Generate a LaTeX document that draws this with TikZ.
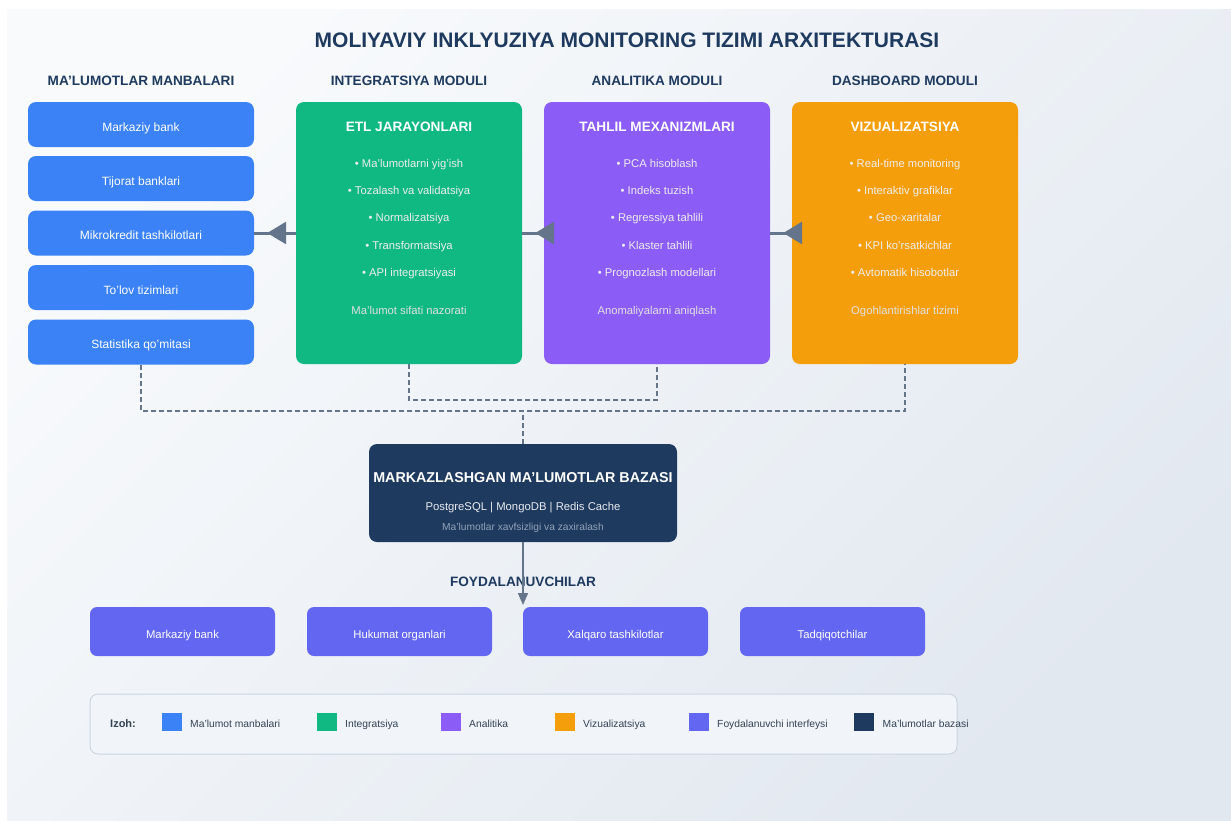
\documentclass[tikz,border=0pt]{standalone}
\usepackage{fontspec}
\setmainfont{Liberation Sans}
\usetikzlibrary{arrows.meta}
\definecolor{bgA}{HTML}{F8FAFC}
\definecolor{bgB}{HTML}{EEF2F7}
\definecolor{bgC}{HTML}{E2E8F0}
\definecolor{navy}{HTML}{1E3A5F}
\definecolor{cblue}{HTML}{3B82F6}
\definecolor{cgreen}{HTML}{10B981}
\definecolor{cpurple}{HTML}{8B5CF6}
\definecolor{corange}{HTML}{F59E0B}
\definecolor{cindigo}{HTML}{6366F1}
\definecolor{cline}{HTML}{64748B}
\definecolor{clegbg}{HTML}{F1F5F9}
\definecolor{clegbd}{HTML}{CBD5E1}
\definecolor{clegtx}{HTML}{334155}
\definecolor{cdbsub}{HTML}{94A3B8}
\tikzset{
  srcbox/.style={fill=cblue, rounded corners=8pt, minimum width=226pt, minimum height=45pt, inner sep=0pt, text=white, text height=13pt, text depth=0pt, font=\fontsize{12}{14}\selectfont},
  modbox/.style={rounded corners=8pt, minimum width=226pt, minimum height=262pt, inner sep=0pt},
  usrbox/.style={fill=cindigo, rounded corners=7pt, minimum width=185pt, minimum height=49pt, inner sep=0pt, text=white, text height=13.5pt, text depth=0pt, font=\fontsize{11.3}{13}\selectfont},
  heading/.style={anchor=base, inner sep=0pt, text=navy, font=\bfseries\fontsize{13.6}{16}\selectfont},
  modtitle/.style={anchor=base, inner sep=0pt, text=white, font=\bfseries\fontsize{13.6}{16}\selectfont},
  bullet/.style={anchor=base, inner sep=0pt, text=white!93!black, font=\fontsize{11.25}{13}\selectfont},
  footer/.style={anchor=base, inner sep=0pt, text=white!88!black, font=\fontsize{11.25}{13}\selectfont},
  flowline/.style={draw=cline, line width=3pt, postaction={draw=cline, line width=3pt, -{Triangle[length=19pt,width=22pt]}, shorten >=13pt}},
  dashline/.style={draw=cline, line width=2pt, dash pattern=on 5pt off 3pt},
  swatch/.style={minimum width=20pt, minimum height=18pt, inner sep=0pt},
  legtext/.style={text=clegtx, font=\fontsize{10.3}{12}\selectfont, anchor=base west, inner sep=0pt},
}
\begin{document}
\begin{tikzpicture}[x=1pt,y=-1pt]
\useasboundingbox (0,0) rectangle (1231,820);
\fill[white] (0,0) rectangle (1231,820);
\shade[left color=bgA, right color=bgC, shading angle=45] (7,9) rectangle (1231,820);

% title
\node[anchor=base, inner sep=0pt, text=navy, font=\bfseries\fontsize{21}{24}\selectfont] (title) at (627,47.5) {MOLIYAVIY INKLYUZIYA MONITORING TIZIMI ARXITEKTURASI};

% column headings
\node[heading] (h1) at (141,85.5) {MA'LUMOTLAR MANBALARI};
\node[heading] (h2) at (409,85.5) {INTEGRATSIYA MODULI};
\node[heading] (h3) at (657,85.5) {ANALITIKA MODULI};
\node[heading] (h4) at (905,85.5) {DASHBOARD MODULI};

% sources
\node[srcbox] (s1) at (141,124.5) {Markaziy bank};
\node[srcbox] (s2) at (141,178.5) {Tijorat banklari};
\node[srcbox] (s3) at (141,233) {Mikrokredit tashkilotlari};
\node[srcbox] (s4) at (141,287.5) {To'lov tizimlari};
\node[srcbox] (s5) at (141,342) {Statistika qo'mitasi};

% modules
\node[modbox, fill=cgreen] (etl) at (409,233) {};
\node[modbox, fill=cpurple] (tah) at (657,233) {};
\node[modbox, fill=corange] (viz) at (905,233) {};

\node[modtitle] (etlT) at (409,131.5) {ETL JARAYONLARI};
\node[bullet] (etl1) at (409,167.3) {• Ma'lumotlarni yig'ish};
\node[bullet] (etl2) at (409,194.5) {• Tozalash va validatsiya};
\node[bullet] (etl3) at (409,221.7) {• Normalizatsiya};
\node[bullet] (etl4) at (409,249) {• Transformatsiya};
\node[bullet] (etl5) at (409,276.3) {• API integratsiyasi};
\node[footer] (etlF) at (409,314.3) {Ma'lumot sifati nazorati};

\node[modtitle] (tahT) at (657,131.5) {TAHLIL MEXANIZMLARI};
\node[bullet] (tah1) at (657,167.3) {• PCA hisoblash};
\node[bullet] (tah2) at (657,194.5) {• Indeks tuzish};
\node[bullet] (tah3) at (657,221.7) {• Regressiya tahlili};
\node[bullet] (tah4) at (657,249) {• Klaster tahlili};
\node[bullet] (tah5) at (657,276.3) {• Prognozlash modellari};
\node[footer] (tahF) at (657,314.3) {Anomaliyalarni aniqlash};

\node[modtitle] (vizT) at (905,131.5) {VIZUALIZATSIYA};
\node[bullet] (viz1) at (905,167.3) {• Real-time monitoring};
\node[bullet] (viz2) at (905,194.5) {• Interaktiv grafiklar};
\node[bullet] (viz3) at (905,221.7) {• Geo-xaritalar};
\node[bullet] (viz4) at (905,249) {• KPI ko'rsatkichlar};
\node[bullet] (viz5) at (905,276.3) {• Avtomatik hisobotlar};
\node[footer] (vizF) at (905,314.3) {Ogohlantirishlar tizimi};

% flow arrows (right to left)
\draw[flowline] (etl.west) -- (s3.east);
\draw[flowline] (tah.west) -- (etl.east);
\draw[flowline] (viz.west) -- (tah.east);

% database
\node[fill=navy, rounded corners=8pt, minimum width=308pt, minimum height=98pt, inner sep=0pt] (db) at (523,493) {};
\node[anchor=base, inner sep=0pt, text=white, font=\bfseries\fontsize{14.3}{16}\selectfont] (dbT) at (523,482.5) {MARKAZLASHGAN MA'LUMOTLAR BAZASI};
\node[anchor=base, inner sep=0pt, text=white!90!navy, font=\fontsize{11.3}{13}\selectfont] (dbS) at (523,510) {PostgreSQL | MongoDB | Redis Cache};
\node[anchor=base, inner sep=0pt, text=cdbsub, font=\fontsize{10.2}{12}\selectfont] (dbN) at (523,530.7) {Ma'lumotlar xavfsizligi va zaxiralash};

% dashed links to database
\draw[dashline] (s5.south) -- ++(0,46) -| (viz.south);
\draw[dashline] (etl.south) -- ++(0,36) -| (tah.south);
\draw[dashline] (db.north) -- ++(0,-33);

% users
\node[heading] (uh) at (523,586) {FOYDALANUVCHILAR};
\node[usrbox] (u1) at (182.5,631.5) {Markaziy bank};
\node[usrbox] (u2) at (399.5,631.5) {Hukumat organlari};
\node[usrbox] (u3) at (615.5,631.5) {Xalqaro tashkilotlar};
\node[usrbox] (u4) at (832.5,631.5) {Tadqiqotchilar};
\coordinate (uin) at (523,607);
\draw[draw=cline, line width=1.7pt, -{Triangle[length=12pt,width=10pt]}, shorten >=2pt] (db.south) -- (uin);

% legend
\node[fill=clegbg, draw=clegbd, line width=1pt, rounded corners=8pt, minimum width=867pt, minimum height=60pt, inner sep=0pt] (leg) at (523.5,724) {};
\node[text=clegtx, font=\bfseries\fontsize{11}{13}\selectfont, anchor=base west, inner sep=0pt] (legT) at (110,727) {Izoh:};
\node[swatch, fill=cblue] (l1) at (172,722) {};
\node[legtext] (l1t) at (190,727) {Ma'lumot manbalari};
\node[swatch, fill=cgreen] (l2) at (326.5,722) {};
\node[legtext] (l2t) at (345,727) {Integratsiya};
\node[swatch, fill=cpurple] (l3) at (451,722) {};
\node[legtext] (l3t) at (469,727) {Analitika};
\node[swatch, fill=corange] (l4) at (564.5,722) {};
\node[legtext] (l4t) at (583,727) {Vizualizatsiya};
\node[swatch, fill=cindigo] (l5) at (699,722) {};
\node[legtext] (l5t) at (717,727) {Foydalanuvchi interfeysi};
\node[swatch, fill=navy] (l6) at (864,722) {};
\node[legtext] (l6t) at (882.5,727) {Ma'lumotlar bazasi};
\end{tikzpicture}
\end{document}
